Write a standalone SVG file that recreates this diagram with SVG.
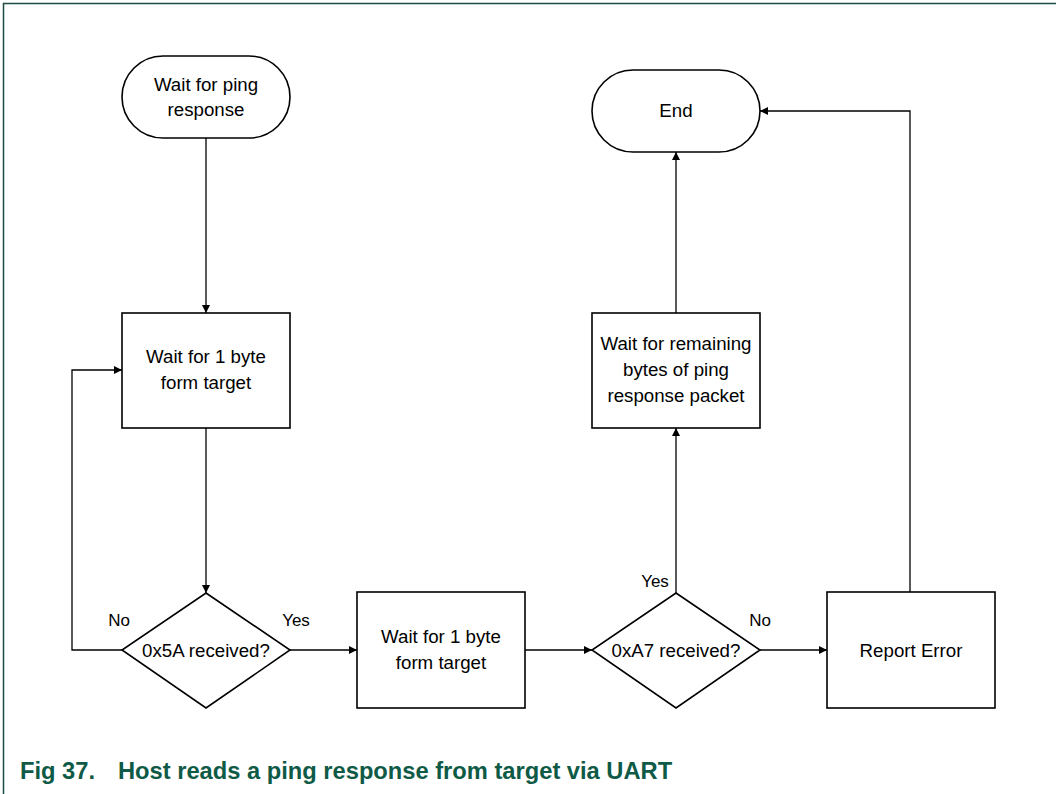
<svg xmlns="http://www.w3.org/2000/svg" width="1056" height="794" viewBox="0 0 1056 794">
<style>
.s{fill:#fff;stroke:#000;stroke-width:1.6}
.t{font-family:"Liberation Sans",Arial,sans-serif;font-size:18.7px;fill:#000;text-anchor:middle}
.l{font-family:"Liberation Sans",Arial,sans-serif;font-size:17px;fill:#000;text-anchor:middle}
.c{fill:none;stroke:#000;stroke-width:1.3}
.cap{font-family:"Liberation Sans",Arial,sans-serif;font-size:23.7px;font-weight:bold;fill:#0e5a46}
</style>
<defs>
<marker id="a" markerWidth="10" markerHeight="10" refX="8" refY="5" orient="auto" markerUnits="userSpaceOnUse">
<path d="M0,1 L8,5 L0,9 Z" fill="#000"/>
</marker>
</defs>
<rect width="1056" height="794" fill="#fff"/>
<path d="M3.5,794 V3.5 H1056" fill="none" stroke="#1b4d42" stroke-width="1.5"/>
<g id="connectors">
<path class="c" d="M206,138 V313" marker-end="url(#a)"/>
<path class="c" d="M206,428 V593" marker-end="url(#a)"/>
<path class="c" d="M122,650 H72 V370 H122" marker-end="url(#a)"/>
<path class="c" d="M290,650 H357" marker-end="url(#a)"/>
<path class="c" d="M525,650 H592" marker-end="url(#a)"/>
<path class="c" d="M676,593 V428" marker-end="url(#a)"/>
<path class="c" d="M760,650 H827" marker-end="url(#a)"/>
<path class="c" d="M910,592 V111 H760" marker-end="url(#a)"/>
<path class="c" d="M676,313 V152" marker-end="url(#a)"/>
<text class="l" x="119" y="626">No</text>
<text class="l" x="296" y="626">Yes</text>
<text class="l" x="655" y="587">Yes</text>
<text class="l" x="760" y="626">No</text>
</g>
<g id="start">
<rect class="s" x="122" y="56" width="168" height="82" rx="41" ry="41"/>
<text class="t" x="206" y="91">Wait for ping</text>
<text class="t" x="206" y="116">response</text>
</g>
<g id="wait1">
<rect class="s" x="122" y="313" width="168" height="115"/>
<text class="t" x="206" y="363">Wait for 1 byte</text>
<text class="t" x="206" y="389">form target</text>
</g>
<g id="dec1">
<path class="s" d="M206,593 L290,650 L206,708 L122,650 Z"/>
<text class="t" x="206" y="657">0x5A received?</text>
</g>
<g id="wait2">
<rect class="s" x="357" y="592" width="168" height="116"/>
<text class="t" x="441" y="643">Wait for 1 byte</text>
<text class="t" x="441" y="669">form target</text>
</g>
<g id="dec2">
<path class="s" d="M676,593 L760,650 L676,708 L592,650 Z"/>
<text class="t" x="676" y="657">0xA7 received?</text>
</g>
<g id="error">
<rect class="s" x="827" y="592" width="168" height="116"/>
<text class="t" x="911" y="657">Report Error</text>
</g>
<g id="wait3">
<rect class="s" x="592" y="313" width="168" height="115"/>
<text class="t" x="676" y="350">Wait for remaining</text>
<text class="t" x="676" y="376">bytes of ping</text>
<text class="t" x="676" y="402">response packet</text>
</g>
<g id="end">
<rect class="s" x="592" y="70" width="168" height="82" rx="41" ry="41"/>
<text class="t" x="676" y="117">End</text>
</g>
<text class="cap" x="20" y="779">Fig 37.</text>
<text class="cap" x="118" y="779">Host reads a ping response from target via UART</text>
</svg>
